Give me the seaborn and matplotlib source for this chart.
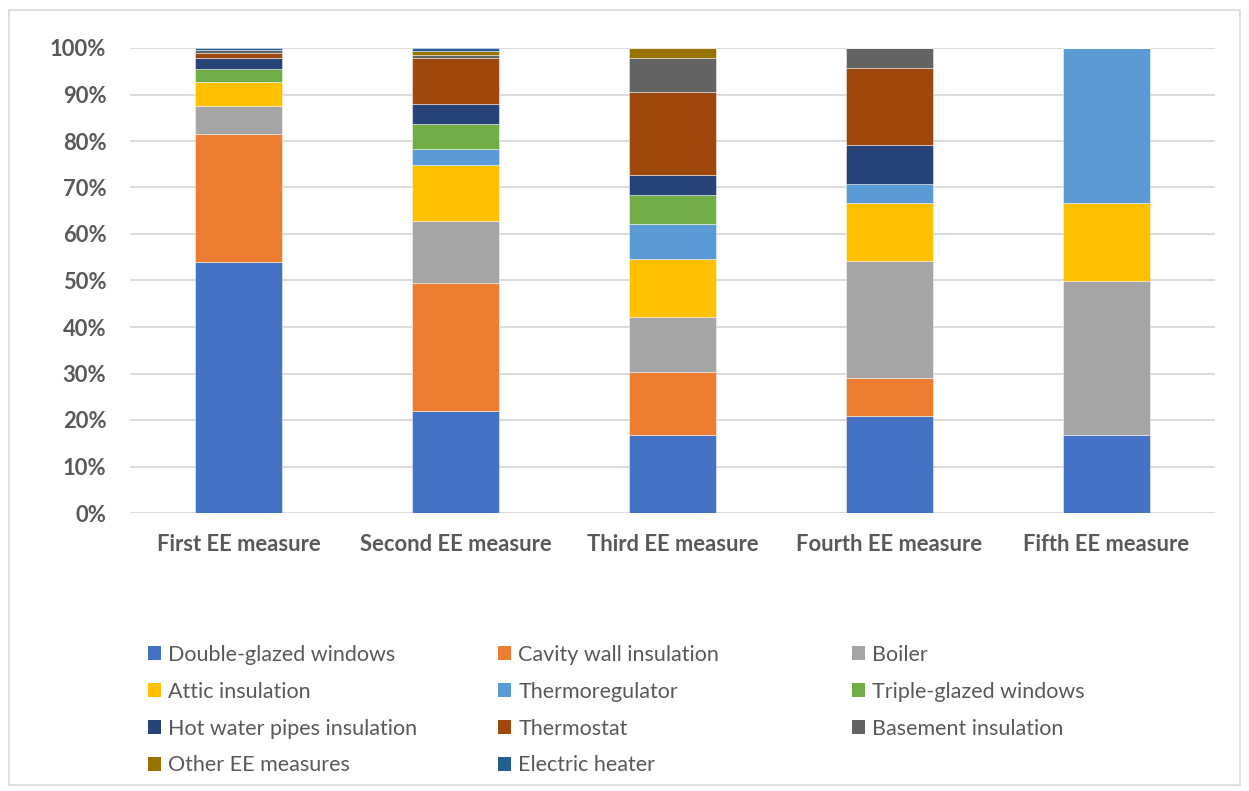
import numpy as np
import pandas as pd
import matplotlib
matplotlib.use("Agg")
import matplotlib.pyplot as plt
import matplotlib.patches as mpatches
from matplotlib.ticker import PercentFormatter
import seaborn as sns

# Share of each energy-efficiency measure by order of adoption (percent)
measures = ["First EE measure", "Second EE measure", "Third EE measure",
            "Fourth EE measure", "Fifth EE measure"]

double_glazed = [54.0, 22.0, 16.8, 20.8, 16.7]
cavity_wall   = [27.5, 27.5, 13.6, 8.3, 0.0]
boiler        = [6.0, 13.2, 11.7, 25.0, 33.3]
attic         = [5.2, 12.1, 12.6, 12.5, 16.7]
thermoreg     = [0.0, 3.5, 7.4, 4.2, 33.3]
triple_glazed = [2.8, 5.3, 6.3, 0.0, 0.0]
hot_water     = [2.4, 4.4, 4.2, 8.3, 0.0]
thermostat    = [1.1, 9.8, 17.9, 16.7, 0.0]
basement      = [0.6, 0.8, 7.3, 4.2, 0.0]
other_ee      = [0.0, 0.8, 2.2, 0.0, 0.0]
electric      = [0.4, 0.6, 0.0, 0.0, 0.0]

series_names = ["Double-glazed windows", "Cavity wall insulation", "Boiler",
                "Attic insulation", "Thermoregulator", "Triple-glazed windows",
                "Hot water pipes insulation", "Thermostat", "Basement insulation",
                "Other EE measures", "Electric heater"]
series_values = [double_glazed, cavity_wall, boiler, attic, thermoreg,
                 triple_glazed, hot_water, thermostat, basement, other_ee, electric]
colors = ["#4472C4", "#ED7D31", "#A5A5A5", "#FFC000", "#5B9BD5", "#70AD47",
          "#264478", "#9E480E", "#636363", "#997300", "#255E91"]

sns.set_theme(style="white")
plt.rcParams["font.family"] = ["Lato", "DejaVu Sans"]

text_gray = "#595959"
grid_gray = "#D9D9D9"

fig = plt.figure(figsize=(12.49, 7.91), dpi=100)
ax = fig.add_axes([130 / 1249, 1 - 513 / 791, 1085 / 1249, 465 / 791])

bottom = np.zeros(len(measures))
for name, vals, col in zip(series_names, series_values, colors):
    frac = np.array(vals) / 100.0
    df = pd.DataFrame({"measure": measures, "share": frac})
    sns.barplot(data=df, x="measure", y="share", order=measures, color=col,
                width=0.4, bottom=bottom, errorbar=None, ax=ax,
                edgecolor=(1, 1, 1, 0.45), linewidth=0.7, saturation=1)
    bottom = bottom + frac

ax.set_ylim(0, 1)
ax.set_xlim(-0.5, len(measures) - 0.5)
ax.yaxis.set_major_locator(plt.MultipleLocator(0.1))
ax.yaxis.set_major_formatter(PercentFormatter(xmax=1, decimals=0))
ax.set_axisbelow(True)
ax.grid(axis="y", color=grid_gray, linewidth=1.3)
ax.grid(axis="x", visible=False)
for s in ax.spines.values():
    s.set_visible(False)
ax.set_xlabel("")
ax.set_ylabel("")
ax.tick_params(axis="both", length=0)
ax.tick_params(axis="y", pad=17)
ax.tick_params(axis="x", pad=15)
for lbl in ax.get_yticklabels() + ax.get_xticklabels():
    lbl.set_fontweight("bold")
    lbl.set_color(text_gray)
    lbl.set_fontsize(15.8)

# Legend: three columns, filled row by row
handles = [mpatches.Patch(facecolor=c, edgecolor="none", label=n)
           for n, c in zip(series_names, colors)]
ncol = 3
col_x = [148, 498, 852]
for c in range(ncol):
    idx = list(range(c, len(handles), ncol))
    leg = fig.legend([handles[i] for i in idx], [series_names[i] for i in idx],
                     loc="upper left", bbox_to_anchor=(col_x[c] / 1249, 1 - 645 / 791),
                     frameon=False, fontsize=15.5, borderpad=0.0,
                     handlelength=0.62, handleheight=0.62, handletextpad=0.33,
                     labelspacing=0.78, borderaxespad=0.0)
    for t in leg.get_texts():
        t.set_color(text_gray)

# Chart frame
fig.patches.append(mpatches.Rectangle((9 / 1249, 6 / 791), 1231 / 1249, 775 / 791,
                                      transform=fig.transFigure, fill=False,
                                      edgecolor=grid_gray, linewidth=1.2))

fig.savefig("out.png", dpi=100, facecolor="white")
